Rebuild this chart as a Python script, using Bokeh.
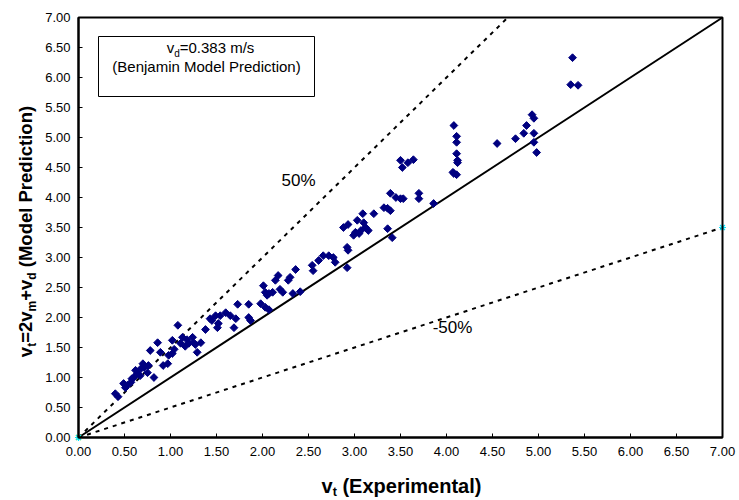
import math
from bokeh.plotting import figure
from bokeh.models import Label, BoxAnnotation, FixedTicker, NumeralTickFormatter, Range1d
from bokeh.embed import file_html
from bokeh.resources import INLINE

# ---------------- data ----------------
x_exp = [0.40, 0.43, 0.49, 0.51, 0.53, 0.57, 0.60, 0.62, 0.64, 0.67, 0.70, 0.71, 0.75, 0.76,
         0.82, 0.78, 0.86, 0.89, 0.92, 0.97, 0.98, 1.02, 1.02, 1.08, 1.11, 1.13, 1.18, 1.20,
         1.24, 1.25, 1.29, 1.33, 1.38, 1.43, 1.49, 1.51, 1.52, 1.54, 1.60, 1.65, 1.69, 1.71,
         1.73, 1.85, 1.85, 1.87, 1.98, 2.03, 2.07, 2.01, 2.03, 2.07, 2.11, 2.14, 2.17, 2.22,
         2.28, 2.30, 2.36, 2.33, 2.41, 2.54, 2.55, 2.61, 2.66, 2.72, 2.77, 2.79, 2.92, 2.92,
         2.93, 2.88, 2.93, 2.99, 3.01, 3.03, 3.07, 3.09, 3.10, 3.15, 3.21, 3.32, 3.36, 3.39,
         3.36, 3.41, 3.39, 3.45, 3.50, 3.53, 3.50, 3.52, 3.58, 3.64, 3.70, 3.70, 3.86, 4.08,
         4.11, 4.11, 4.11, 4.12, 4.12, 4.07, 4.08, 4.11, 4.55, 4.75, 4.84, 4.87, 4.93, 4.95,
         4.95, 4.95, 4.98, 5.37, 5.35, 5.43,
         0.58, 0.68, 1.04, 1.16, 1.27, 1.45, 2.05, 2.19, 3.05, 3.12]
y_model = [0.73, 0.68, 0.90, 0.83, 0.87, 0.92, 1.00, 1.12, 1.07, 1.03, 1.23, 1.17, 1.08, 1.20,
           1.00, 1.45, 1.58, 1.42, 1.20, 1.23, 1.37, 1.40, 1.62, 1.87, 1.57, 1.67, 1.63, 1.57,
           1.67, 1.58, 1.42, 1.58, 1.80, 1.98, 2.03, 1.83, 1.90, 2.03, 2.08, 2.03, 1.83, 1.98,
           2.22, 2.22, 2.00, 1.95, 2.23, 2.17, 2.13, 2.53, 2.42, 2.40, 2.42, 2.62, 2.70, 2.42,
           2.62, 2.67, 2.80, 2.40, 2.43, 2.87, 2.78, 2.95, 3.03, 3.03, 3.00, 2.92, 2.83, 3.17,
           3.12, 3.50, 3.55, 3.37, 3.42, 3.62, 3.45, 3.73, 3.58, 3.45, 3.73, 3.83, 3.82, 3.78,
           3.48, 3.33, 4.07, 4.00, 3.98, 3.98, 4.62, 4.50, 4.58, 4.63, 4.07, 3.98, 3.90, 5.20,
           5.02, 4.92, 4.73, 4.62, 4.58, 4.42, 4.40, 4.38, 4.90, 4.98, 5.07, 5.20, 5.38, 5.32,
           5.07, 4.92, 4.75, 6.33, 5.88, 5.87,
           0.98, 1.15, 1.47, 1.52, 1.55, 1.95, 2.37, 2.47, 3.40, 3.50]

axis_ticks = [0.0, 0.5, 1.0, 1.5, 2.0, 2.5, 3.0, 3.5, 4.0, 4.5, 5.0, 5.5, 6.0, 6.5, 7.0]
axis_min, axis_max = 0.0, 7.0
slope_equal = 1.0
slope_plus50 = 1.5
slope_minus50 = 0.5

label_plus = "50%"
label_minus = "-50%"
box_line1 = [("v", False), ("d", True), ("=0.383 m/s", False)]
box_line2 = "(Benjamin Model Prediction)"
xlabel_runs = [("v", False), ("t", True), (" (Experimental)", False)]
ylabel_runs = [("v", False), ("t", True), ("=2v", False), ("m", True), ("+v", False),
               ("d", True), (" (Model Prediction)", False)]

# ---------------- font metrics (Arial / Liberation Sans, per 1000 em) ----------------
REG = {" ": 278, "(": 333, ")": 333, ".": 278, "/": 278, "=": 584, "+": 584, "%": 889, "-": 333,
       "B": 667, "M": 833, "P": 667, "a": 556, "c": 500, "d": 556, "e": 556, "i": 222,
       "j": 222, "l": 222, "m": 833, "n": 556, "o": 556, "r": 333, "s": 500, "t": 278,
       "v": 500}
BOLD = {" ": 278, "(": 333, ")": 333, "+": 584, "=": 584, "E": 667, "M": 833, "P": 667,
        "a": 556, "c": 556, "d": 611, "e": 556, "i": 278, "l": 278, "m": 889, "n": 611,
        "o": 611, "p": 611, "r": 389, "t": 333, "v": 556, "x": 556}
MID = 0.35  # distance from baseline to em-box middle, in em


def text_width(s, size, bold):
    tab = BOLD if bold else REG
    return sum(tab.get(ch, 556) for ch in s) * size / 1000.0


FONT = "Liberation Sans"

# canvas geometry: plot box from px 78..722 horizontally, 17..437 vertically
W, H = 739, 500
BOX_L, BOX_R, BOX_T, BOX_B = 78.0, 722.0, 17.0, 437.0
xs = (BOX_R - BOX_L) / (axis_max - axis_min)
ys = (BOX_B - BOX_T) / (axis_max - axis_min)
x_range = Range1d(axis_min - BOX_L / xs, axis_max + (W - BOX_R) / xs)
y_range = Range1d(axis_min - (H - BOX_B) / ys, axis_max + BOX_T / ys)

p = figure(width=W, height=H, output_backend="svg", toolbar_location=None,
           x_range=x_range, y_range=y_range,
           min_border=0, min_border_left=0, min_border_right=0,
           min_border_top=0, min_border_bottom=0)
p.background_fill_color = "white"
p.border_fill_color = "white"
p.outline_line_color = None
p.xgrid.visible = False
p.ygrid.visible = False

for ax in (p.xaxis[0], p.yaxis[0]):
    ax.fixed_location = axis_min
    ax.bounds = (axis_min, axis_max)
    ax.ticker = FixedTicker(ticks=axis_ticks)
    ax.formatter = NumeralTickFormatter(format="0.00")
    ax.axis_line_color = "black"
    ax.axis_line_width = 2
    ax.major_tick_line_color = "black"
    ax.major_tick_line_width = 1
    ax.major_tick_in = 4
    ax.major_tick_out = 0
    ax.minor_tick_line_color = None
    ax.major_label_text_font = FONT
    ax.major_label_text_font_size = "13px"
    ax.major_label_text_color = "black"
    ax.axis_label = None
p.yaxis[0].major_label_standoff = 8
p.xaxis[0].major_label_standoff = 9

# plot-area border
p.add_layout(BoxAnnotation(left=axis_min, right=axis_max, bottom=axis_min, top=axis_max,
                           fill_color=None, fill_alpha=0, line_color="black", line_width=2,
                           line_alpha=1.0))


# reference lines (clipped to the plot box)
def ref_line(slope, **kw):
    x_end = min(axis_max, axis_max / slope)
    p.line([axis_min, x_end], [axis_min, slope * x_end], **kw)


ref_line(slope_plus50, line_color="black", line_width=2, line_dash="4 5")
ref_line(slope_minus50, line_color="black", line_width=2, line_dash="4 5")
ref_line(slope_equal, line_color="black", line_width=2)

# data
p.scatter(x_exp, y_model, marker="square", angle=math.pi / 4, size=5.5,
          fill_color="#000080", line_color="#000080", line_width=1)

# endpoint markers
p.scatter([axis_min], [axis_min], marker="x", size=7, line_color="#e0e000", line_width=1.5)
p.scatter([axis_min, axis_max], [axis_min, slope_minus50 * axis_max], marker="asterisk",
          size=7, line_color="#00e5ff", line_width=1.2)


def sy(cy):
    return H - cy


def add_text(cx, cy_mid, txt, size, bold=False, align="left", angle=0.0):
    p.add_layout(Label(x=cx, y=sy(cy_mid), x_units="screen", y_units="screen", text=txt,
                       angle=angle, text_font=FONT, text_font_size=f"{size}px",
                       text_font_style="bold" if bold else "normal",
                       text_align=align, text_baseline="middle", text_color="black"))


# percentage labels
add_text(298, 180, label_plus, 17, align="center")
add_text(452, 327, label_minus, 17, align="center")

# annotation box
p.add_layout(BoxAnnotation(left=98, right=314, top=sy(36), bottom=sy(96),
                           left_units="screen", right_units="screen",
                           top_units="screen", bottom_units="screen",
                           fill_color="white", fill_alpha=1.0,
                           line_color="black", line_width=1, line_alpha=1.0))


def place_runs(runs, start, baseline, size, sub_size, bold, sub_shift, vertical=False):
    """Lay out text runs; baseline is in canvas px (y down for horizontal, x for vertical)."""
    pos = 0.0
    for txt, is_sub in runs:
        fs = sub_size if is_sub else size
        lead = len(txt) - len(txt.lstrip(" "))
        pos += text_width(" " * lead, fs, bold)
        body = txt.lstrip(" ")
        base = baseline + (sub_shift if is_sub else 0)
        mid = base - MID * fs
        if vertical:
            add_text(mid, start - pos, body, fs, bold, angle=math.pi / 2)
        else:
            add_text(start + pos, mid, body, fs, bold)
        pos += text_width(body, fs, bold)


def runs_width(runs, size, sub_size, bold):
    return sum(text_width(t, sub_size if s else size, bold) for t, s in runs)


# box text
w1 = runs_width(box_line1, 15, 10, False)
place_runs(box_line1, 210 - w1 / 2, 52, 15, 10, False, 4)
add_text(206, 71 - MID * 15, box_line2, 15, align="center")

# x axis label
wx = runs_width(xlabel_runs, 20, 12.5, True)
place_runs(xlabel_runs, 401 - wx / 2, 492, 20, 12.5, True, 4)

# y axis label (rotated, reading upward; start is the bottom end in canvas y)
wy = runs_width(ylabel_runs, 18.5, 12, True)
place_runs(ylabel_runs, 231 + wy / 2, 31, 18.5, 12, True, 4.5, vertical=True)

open("out.html", "w").write(file_html(p, INLINE))
